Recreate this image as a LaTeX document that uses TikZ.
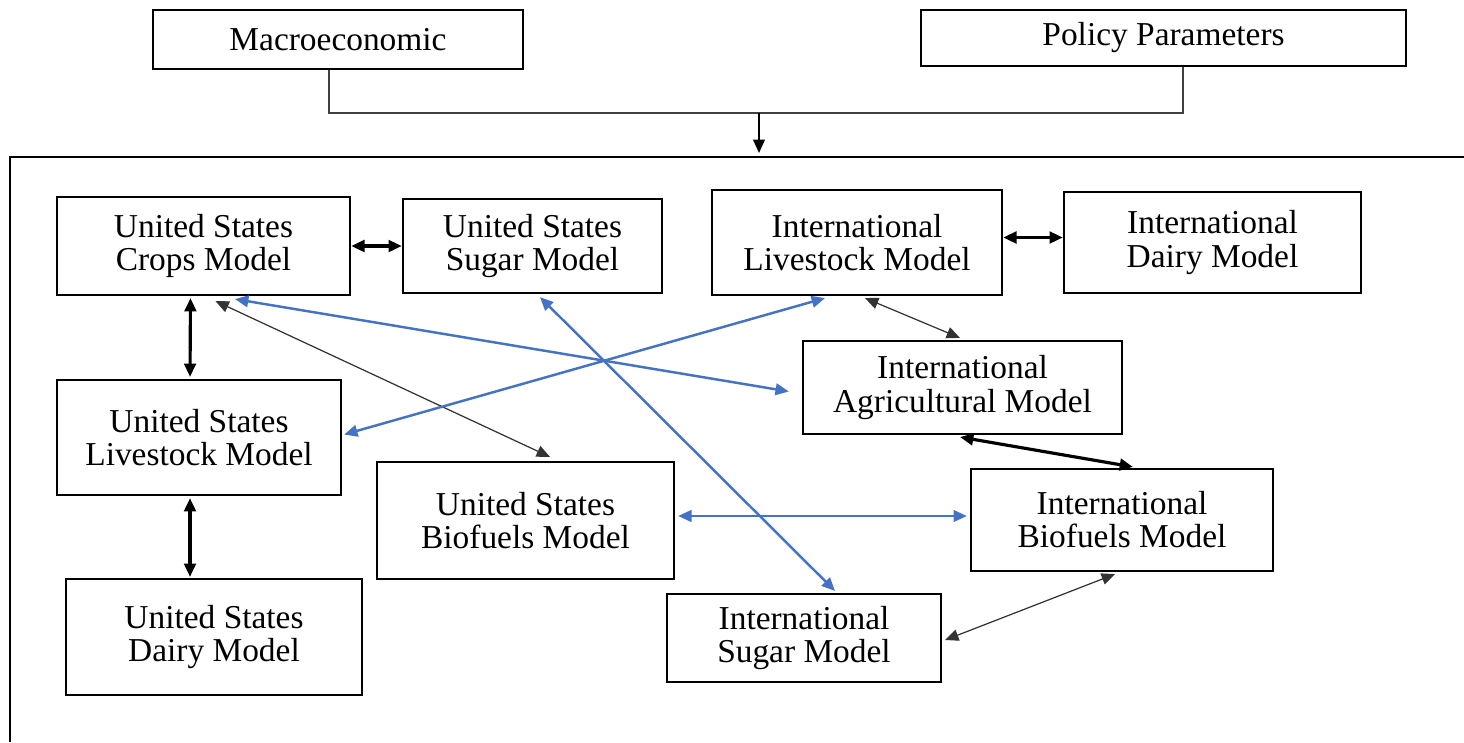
\documentclass[tikz,border=0pt]{standalone}
\usepackage{fontspec}
\setmainfont{Liberation Serif}
\usetikzlibrary{arrows.meta,calc}
\definecolor{linkblue}{RGB}{68,114,196}
\begin{document}
\begin{tikzpicture}[x = 0.01cm, y = -0.01cm,
        box/.style = {draw, line width = 0.6pt, align = center, inner sep = 0pt, font = \fontsize{9.5}{9.4}\selectfont},
        both/.style = {{Triangle[length = 3.8pt, width = 3.3pt]}-{Triangle[length = 3.8pt, width = 3.3pt]}},
        bold link/.style = {both, line width = 0.9pt},
        thin link/.style = {both, line width = 0.35pt, black!80},
        blue link/.style = {both, line width = 0.7pt, linkblue}]
        \useasboundingbox (0,0) rectangle (1464,742);

        \node (macro) at (338,39.5) [box, minimum width = 3.70cm, minimum height = 0.59cm] {Macroeconomic};
        \node (policy) at (1163.5,38) [box, minimum width = 4.85cm, minimum height = 0.56cm] {Policy Parameters};

        \coordinate (join) at (759,113);
        \coordinate (frame) at (759,153);
        \draw [line width = 0.4pt, black!75] ($(macro.south)+(-9,0)$) |- (join) -| ($(policy.south)+(19.5,0)$);
        \draw [-{Triangle[length = 3.8pt, width = 3.3pt]}, line width = 0.5pt] (join) -- (frame);

        \draw [line width = 0.6pt] (1464,157) -- (10,157) -- (10,742);

        \node (uscrops) at (203.5,246) [box, minimum width = 2.93cm, minimum height = 0.98cm] {United States\\Crops Model};
        \node (ussugar) at (532.5,246) [box, minimum width = 2.59cm, minimum height = 0.94cm] {United States\\Sugar Model};
        \node (intlive) at (857,242.5) [box, minimum width = 2.90cm, minimum height = 1.05cm] {International\\Livestock Model};
        \node (intdairy) at (1212.5,242.5) [box, minimum width = 2.97cm, minimum height = 1.01cm] {International\\Dairy Model};
        \node (intagri) at (962.5,387.5) [box, minimum width = 3.19cm, minimum height = 0.93cm] {International\\Agricultural Model};
        \node (uslive) at (199,437.5) [box, minimum width = 2.84cm, minimum height = 1.15cm] {United States\\Livestock Model};
        \node (usbio) at (525.5,520.5) [box, minimum width = 2.97cm, minimum height = 1.17cm] {United States\\Biofuels Model};
        \node (intbio) at (1122,520) [box, minimum width = 3.02cm, minimum height = 1.02cm] {International\\Biofuels Model};
        \node (usdairy) at (214,637) [box, minimum width = 2.96cm, minimum height = 1.16cm] {United States\\Dairy Model};
        \node (intsugar) at (804,638) [box, minimum width = 2.74cm, minimum height = 0.88cm] {International\\Sugar Model};

        \draw [bold link] (uscrops.east) -- (ussugar.west);
        \draw [bold link] ($(intlive.east)+(0,-5)$) -- ($(intdairy.west)+(0,-5)$);
        \draw [bold link] ($(uscrops.south)+(-13,2)$) -- ($(uslive.north)+(-9,-2)$);
        \draw [bold link] ($(uslive.south)+(-9,2)$) -- ($(usdairy.north)+(-24,-1)$);
        \draw [bold link] ($(intagri.south)+(-2.5,2)$) -- ($(intbio.north)+(11,-1)$);

        \draw [thin link] ($(uscrops.south)+(12,5)$) -- ($(usbio.north)+(24.5,-4)$);
        \draw [thin link] ($(intlive.south)+(8,2)$) -- ($(intagri.north)+(-2.5,-2)$);
        \draw [thin link] ($(intbio.south)+(-7,2)$) -- ($(intsugar.east)+(3,2)$);

        \draw [blue link] ($(uscrops.south)+(31.5,3)$) -- ($(intagri.west)+(-13,4)$);
        \draw [blue link] ($(intlive.south)+(-32,2)$) -- ($(uslive.east)+(2,-3)$);
        \draw [blue link] ($(ussugar.south)+(7.5,3)$) -- ($(intsugar.north)+(31,-2)$);
        \draw [blue link] ($(usbio.east)+(3,-4.5)$) -- ($(intbio.west)+(-3,-4)$);

    \end{tikzpicture}
\end{document}
